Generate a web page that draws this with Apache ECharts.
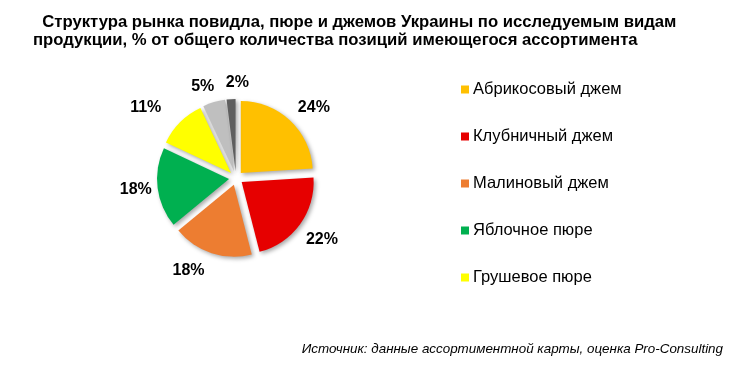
<!DOCTYPE html>
<html><head><meta charset="utf-8">
<script src="https://cdn.jsdelivr.net/npm/echarts@6/dist/echarts.min.js"></script>
<style>html,body{margin:0;padding:0;background:#fff}#c{width:752px;height:381px}</style>
</head><body><div id="c"></div>
<script>
var categories = ['Абрикосовый джем','Клубничный джем','Малиновый джем','Яблочное пюре','Грушевое пюре','Прочее','Другое'];
var values = [24, 22, 18, 18, 11, 5, 2];
var legendNames = ['Абрикосовый джем','Клубничный джем','Малиновый джем','Яблочное пюре','Грушевое пюре'];
var colors = ['#FFC000','#E60000','#ED7D31','#00B050','#FFFF00','#BFBFBF','#5F5F5F'];
// small label nudges (text placement style, like Excel's best-fit)
var labelNudge = [[5,4],[0,-2],[-16,-9],[3,-4],[-17,2],[-5,7],[7,7]];

var pieData = categories.map(function(n,i){return {name:n,value:values[i],selected:true,itemStyle:{color:colors[i]}};});
var labelData = categories.map(function(n,i){return {name:n,value:values[i]};});

var chart = echarts.init(document.getElementById('c'));
chart.setOption({
  animation:false,
  backgroundColor:'#fff',
  title:[{
    text:'  Структура рынка повидла, пюре и джемов Украины по исследуемым видам\nпродукции, % от общего количества позиций имеющегося ассортимента',
    left:28, top:8,
    textStyle:{fontFamily:'"Liberation Sans",Arial,sans-serif',fontWeight:'bold',fontSize:16.7,lineHeight:18.5,color:'#000'}
  },{
    text:'Источник: данные ассортиментной карты, оценка Pro-Consulting',
    right:24, top:338,
    textStyle:{fontFamily:'"Liberation Sans",Arial,sans-serif',fontStyle:'italic',fontWeight:'normal',fontSize:13.4,color:'#000'}
  }],
  legend:{
    orient:'vertical', left:456, top:76,
    data:legendNames, icon:'rect', itemWidth:8, itemHeight:8, itemGap:30,
    textStyle:{fontFamily:'"Liberation Sans",Arial,sans-serif',fontSize:16.5,color:'#000',padding:[0,0,0,-1]},
    selectedMode:false
  },
  series:[{
    type:'pie', center:[236,178], radius:72, selectedMode:'multiple', selectedOffset:7,
    startAngle:90, clockwise:true, silent:true, legendHoverLink:false,
    data:pieData, label:{show:false}, labelLine:{show:false},
    itemStyle:{shadowBlur:4,shadowColor:'rgba(0,0,0,0.35)',shadowOffsetX:2,shadowOffsetY:2}
  },{
    type:'pie', center:[237,180], radius:[82,122], silent:true, legendHoverLink:false,
    startAngle:90, clockwise:true, avoidLabelOverlap:false,
    data:labelData, itemStyle:{color:'rgba(0,0,0,0)'},
    label:{show:true,position:'inside',formatter:'{c}%',fontFamily:'"Liberation Sans",Arial,sans-serif',fontWeight:'bold',fontSize:16,color:'#000'},
    labelLine:{show:false},
    labelLayout:function(p){var n=labelNudge[p.dataIndex];return {dx:n[0],dy:n[1],hideOverlap:false};}
  }]
});
</script></body></html>
